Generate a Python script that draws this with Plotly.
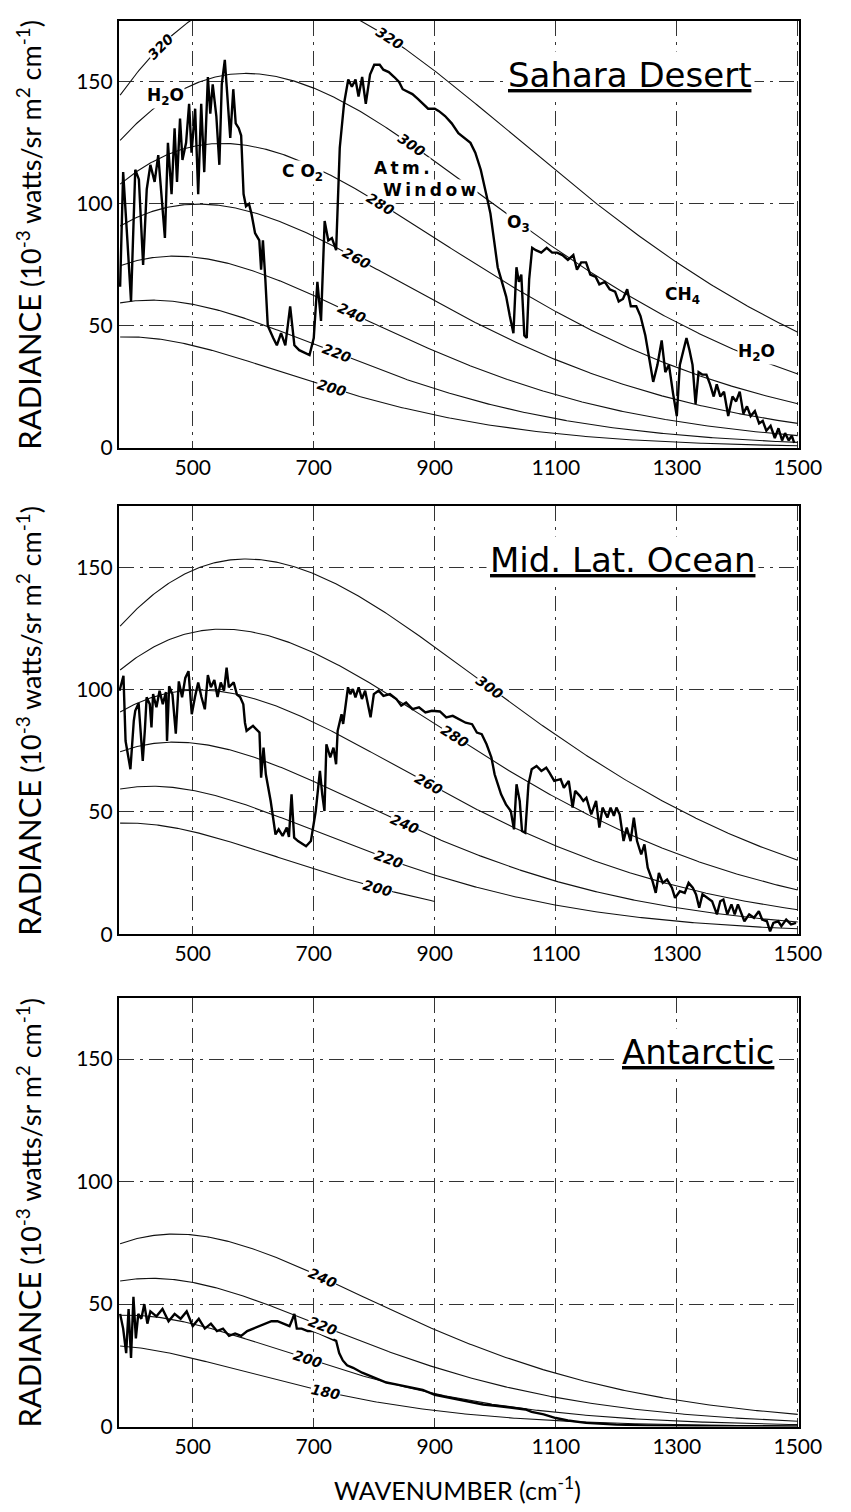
import numpy as np
import plotly.graph_objects as go

# ---------------- DATA ----------------
# Sahara Desert spectrum (wavenumber cm-1, radiance 1e-3 W/sr m2 cm-1)
sahara_x = [380,385,392,398,405,411,418,424,430,437,443,448,454,459,465,470,474,479,483,489,
            494,498,504,509,514,519,525,529,533,539,544,548,553,557,562,567,571,576,580,584,
            588,593,597,603,610,613,616,620,624,633,639,646,653,661,668,676,685,693,700,706,
            712,718,724,730,737,743,750,757,763,769,774,780,786,793,800,809,815,824,833,841,
            847,854,863,872,881,889,900,907,917,928,939,950,959,967,976,985,992,998,1004,1011,
            1018,1024,1030,1035,1039,1043,1048,1052,1056,1061,1067,1076,1085,1094,1102,1111,1120,1129,1135,1142,
            1150,1157,1166,1172,1181,1189,1198,1204,1211,1218,1224,1233,1240,1248,1254,1261,1268,1275,1281,1287,
            1294,1300,1305,1311,1316,1321,1326,1331,1336,1342,1349,1355,1361,1366,1372,1378,1385,1392,1398,1404,
            1410,1416,1422,1429,1436,1442,1448,1455,1462,1468,1474,1479,1485,1490,1494]
sahara_y = [66,113,85,60,114,110,75,106,116,109,120,104,86,125,104,131,109,135,118,125,
            141,121,139,104,141,113,152,137,149,136,116,149,159,145,127,147,133,131,128,104,
            99,100,96,88,85,73,85,69,50,45,42,47,42,58,42,40,39,38,45,68,
            52,93,85,86,81,123,141,151,148,151,144,152,141,153,157,157,155,154,152,150,
            147,146,145,143,141,139,139,138,136,133,129,127,125,121,114,104,96,85,74,68,
            62,54,47,74,68,71,46,45,69,82,81,80,82,80,80,79,77,79,73,76,
            76,71,70,67,68,65,64,60,61,65,58,58,54,46,37,27,34,44,31,34,
            22,13,34,40,45,40,34,18,31,30,30,26,21,26,21,23,13,21,19,23,
            14,17,13,15,10,11,7,9,4,8,3,6,3,5,2]

# Mid. Lat. Ocean spectrum
ocean_x = [379,385.5,389,394.6,397,402.6,405,410.5,415.8,417.4,421,423.8,429,431.8,434.5,440,445.2,450.5,455.8,457.5,
           461,466.5,472,477,482.4,487.7,493,498.4,503.7,509,514.4,520,525,530,535.7,541,546.3,551.7,556,559.7,
           567.7,573,578.3,583.6,586.3,589,599.6,610.3,613,617,620.8,628.8,636.8,642,648.5,655.4,659,663.3,667.6,674,
           687.3,695.3,703.3,710.2,714,717.7,720.9,727.3,732.6,736.9,739.5,745.9,748.6,756.6,760.4,764.6,768.9,774.2,779.6,784.9,
           793.9,799.3,807.2,815.2,825.9,836.6,844.6,852.6,863.2,873.9,884.5,895.2,908.5,919,929.7,940.4,951,961.7,969.6,977.6,
           985.6,993.6,998.9,1004.3,1009.6,1017.6,1025.6,1030.9,1035.1,1040.4,1044.2,1049.5,1054.8,1060.2,1068.2,1076.2,1084.2,1089.5,1097.4,1108.1,
           1113.4,1121.4,1127.8,1132,1140,1145.4,1150.6,1158.6,1166.6,1172,1177.3,1185.3,1190.6,1196,1200.2,1205.6,1212,1217.3,1223.6,1229,
           1234.3,1241.2,1246.5,1251.9,1259.9,1265.2,1270.4,1276.8,1283.9,1291.9,1297.1,1305.1,1313.1,1319.5,1326.4,1331.8,1337.1,1342.4,1350.3,1358.3,
           1366.3,1371.8,1377,1383.5,1390.3,1395.7,1401,1411.7,1419.6,1427.6,1435.6,1441,1448.9,1454.2,1459.6,1467.6,1472.8,1480.8,1488.8,1497]
ocean_y = [99.6,105.7,79,69.5,67.5,87.3,91.4,94.5,75,70.9,84,96.9,94.1,84.6,98.2,92.8,99.6,94.1,99,79,
           101.4,98,82,103.4,96.9,104.8,107.6,90,97,103,97,92,106,101,104,97,103,99.6,109,101,
           103,98,97,94,86.5,83.2,85.2,82.5,64,76.3,65.4,54.5,40.8,42.9,40.2,43.6,39.8,57.2,39.5,38.1,
           36,38.1,50.4,66.8,57.2,50.4,77.7,72.3,76.3,69.5,83.2,90,86,101,98.2,100.3,96.9,101,96.2,99.6,
           88.7,98.2,99.6,97.5,98.2,96.2,93.5,94.8,92.1,92.8,90.7,91.4,91.1,88.7,89.3,88,86.5,85.9,82.5,81.8,
           77.7,72.3,65.4,61.3,57.2,53.1,50.4,42.9,61.3,54.5,42.2,41.5,61.3,67.5,68.8,66.8,68.1,66.1,62.7,63.4,
           59.9,62.7,51.8,58.6,56.5,54.5,55.8,49,54.5,43.6,51.8,47.7,51.8,48.4,51.8,49,38.1,43.6,38.1,47.7,
           38.1,32.6,36.7,27.2,21.7,16.9,25.1,21,22.4,19,14.9,17.6,16.9,21,19,16.3,10.8,16.3,14.9,13.5,
           8.1,13.5,14.2,8.1,12.2,8.1,12.2,5.3,8.1,6.7,9.4,6,5.3,1.2,4.6,5.3,3.3,6,4,4.6]

# Antarctic spectrum
antarctic_x = [380,385,390,394,398,402,406,410,415,420,425,430,440,450,460,470,480,490,500,510,
               520,530,540,550,560,570,580,590,600,610,620,630,640,650,660,665,668,672,680,690,
               700,710,720,730,737,742,748,755,765,780,800,820,840,860,880,900,920,940,960,980,
               1000,1020,1040,1050,1060,1080,1100,1120,1150,1200,1250,1300,1350,1400,1450,1500]
antarctic_y = [46,40,30,48,28,53,36,46,44,50,42,47,45,48,43,46,44,47,41,44,
               40,42,39,40,37,38,37,39,40,41,42,43,43,42,41,44,46,40,40,39,
               39,38,37,36,35,30,27,25,24,22,20,18,17,16,15,13,12,11,10,9,
               8.5,8,7.5,7,6,5,3.5,2.5,1.5,0.8,0.5,0.3,0.2,0.2,0.1,0]

# Blackbody reference temperatures (K) per panel, with where each curve ends
sahara_temps = [200, 220, 240, 260, 280, 300, 320]
sahara_label_x = [730, 738, 763, 770, 810, 862, 825]
sahara_extra_label = (320, 446)

ocean_temps = [200, 220, 240, 260, 280, 300]
ocean_curve_end = [900, 1500, 1500, 1500, 1500, 1500]
ocean_label_x = [805, 823, 850, 890, 932, 990]

antarctic_temps = [180, 200, 220, 240]
antarctic_label_x = [720, 690, 715, 715]

panel_titles = ["Sahara Desert", "Mid. Lat. Ocean", "Antarctic"]
title_pos = [(1222, 153), (1211, 153), (1335, 153)]

x_ticks = [500, 700, 900, 1100, 1300, 1500]
y_ticks = [0, 50, 100, 150]

# gas annotations for the Sahara panel: (text, x, y, anchor)
sahara_gases = [
    ("H<sub>2</sub>O", 455, 144, "center"),
    ("C\u00a0O<sub>2</sub>", 682, 113, "center"),
    ("A\u2009t\u2009m\u2009.", 798, 114.5, "left"),
    ("W\u2009i\u2009n\u2009d\u2009o\u2009w", 812, 105.5, "left"),
    ("O<sub>3</sub>", 1038, 92, "center"),
    ("CH<sub>4</sub>", 1310, 62.5, "center"),
    ("H<sub>2</sub>O", 1431, 39, "center"),
]

# ---------------- LAYOUT / DRAWING ----------------
W, H = 851, 1512
X0, X1 = 114, 813
panels_px = [(13, 443), (502, 933), (997, 1429)]
XR = [378, 1502]
YR = [0, 175]


def planck(nu, T):
    nu = np.asarray(nu, dtype=float)
    return 1.191042e-5 * nu ** 3 / (np.exp(1.438777 * nu / T) - 1.0)


fig = go.Figure()
annotations = []
layout = dict(width=W, height=H, margin=dict(l=0, r=0, t=0, b=0),
              paper_bgcolor="white", plot_bgcolor="white", showlegend=False)

ppx = (X1 - X0) / (XR[1] - XR[0])


def label_angle(x, T, ppy):
    slope = (planck(x + 1, T) - planck(x - 1, T)) / 2.0
    return float(np.degrees(np.arctan(-slope * ppy / ppx)))


spectra = [(sahara_x, sahara_y), (ocean_x, ocean_y), (antarctic_x, antarctic_y)]
temps_all = [sahara_temps, ocean_temps, antarctic_temps]
ends_all = [[1500] * len(sahara_temps), ocean_curve_end, [1500] * len(antarctic_temps)]
labels_all = [sahara_label_x, ocean_label_x, antarctic_label_x]

label_font = dict(family="DejaVu Sans", size=14, color="black")

for i, (t, b) in enumerate(panels_px):
    s = "" if i == 0 else str(i + 1)
    xa, ya = "x" + s, "y" + s
    ppy = (b - t) / (YR[1] - YR[0])
    layout["xaxis" + s] = dict(
        domain=[X0 / W, X1 / W], range=XR, anchor=ya,
        tickmode="array", tickvals=x_ticks, ticktext=[str(v) for v in x_ticks],
        showgrid=True, gridcolor="#333", gridwidth=1, griddash="longdashdot",
        showline=True, mirror=True, linecolor="black", linewidth=2,
        ticks="", zeroline=False,
        tickfont=dict(family="Lato", size=21, color="black"))
    layout["yaxis" + s] = dict(
        domain=[1 - b / H, 1 - t / H], range=YR, anchor=xa,
        tickmode="array", tickvals=y_ticks, ticktext=[str(v) for v in y_ticks],
        showgrid=True, gridcolor="#333", gridwidth=1, griddash="longdashdot",
        showline=True, mirror=True, linecolor="black", linewidth=2,
        ticks="", zeroline=False,
        tickfont=dict(family="Lato", size=21, color="black"))

    # blackbody curves
    for T, xe, lx in zip(temps_all[i], ends_all[i], labels_all[i]):
        nu = np.linspace(380, xe, 400)
        fig.add_trace(go.Scatter(x=nu, y=planck(nu, T), mode="lines",
                                 line=dict(color="#111", width=1.1),
                                 xaxis=xa, yaxis=ya, hoverinfo="skip"))
        annotations.append(dict(x=lx, y=float(planck(lx, T)), xref=xa, yref=ya,
                                text="<b><i>%d</i></b>" % T, showarrow=False,
                                font=label_font, bgcolor="white", borderpad=0,
                                textangle=label_angle(lx, T, ppy)))
    if i == 0:
        T, lx = sahara_extra_label
        annotations.append(dict(x=lx, y=float(planck(lx, T)), xref=xa, yref=ya,
                                text="<b><i>%d</i></b>" % T, showarrow=False,
                                font=label_font, bgcolor="white", borderpad=0,
                                textangle=label_angle(lx, T, ppy)))
        for txt, gx, gy, anc in sahara_gases:
            annotations.append(dict(x=gx, y=gy, xref=xa, yref=ya, text="<b>%s</b>" % txt,
                                    showarrow=False, xanchor=anc, bgcolor="white",
                                    borderpad=0,
                                    font=dict(family="DejaVu Sans", size=17, color="black")))

    # spectrum
    sx, sy = spectra[i]
    fig.add_trace(go.Scatter(x=sx, y=sy, mode="lines",
                             line=dict(color="black", width=2.4),
                             xaxis=xa, yaxis=ya, hoverinfo="skip"))

    # panel title
    tx, ty = title_pos[i]
    annotations.append(dict(x=tx, y=ty, xref=xa, yref=ya,
                            text="<u>%s</u>" % panel_titles[i], showarrow=False,
                            bgcolor="white", borderpad=3,
                            font=dict(family="DejaVu Sans", size=34, color="black")))

    # y axis title
    annotations.append(dict(
        x=22 / W, y=1 - (t + b) / 2 / H, xref="paper", yref="paper",
        text='<span style="font-size:31px">RADIANCE</span> (10<sup>-3</sup> watts/sr m<sup>2</sup> cm<sup>-1</sup>)',
        showarrow=False, textangle=-90, xanchor="center", yanchor="middle",
        font=dict(family="Lato", size=27, color="black")))

annotations.append(dict(x=462 / W, y=1 - 1491 / H, xref="paper", yref="paper",
                        xanchor="center", yanchor="middle",
                        text="WAVENUMBER (cm<sup>-1</sup>)", showarrow=False,
                        font=dict(family="Lato", size=25, color="black")))

layout["annotations"] = annotations
fig.update_layout(**layout)
fig.write_html("out.html")
